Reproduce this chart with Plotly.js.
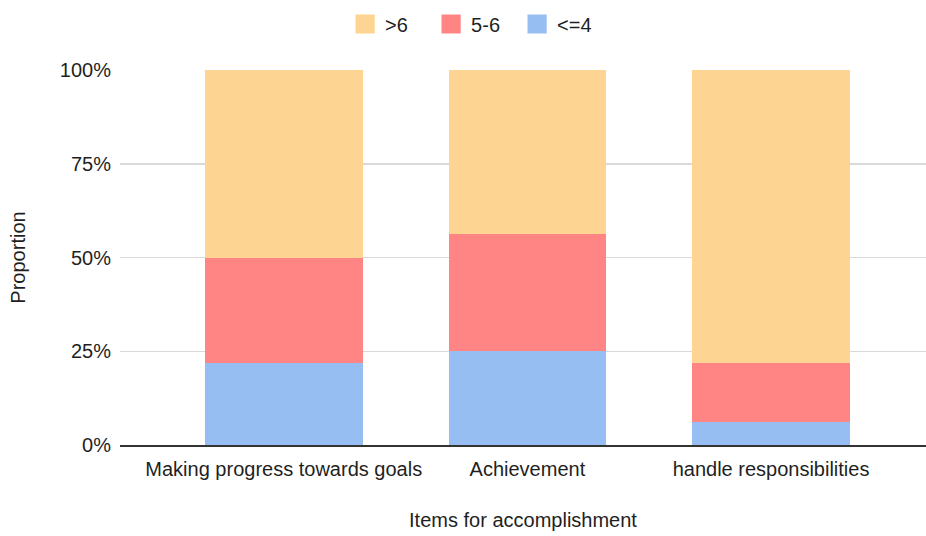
<!DOCTYPE html>
<html>
<head>
<meta charset="utf-8">
<script src="https://cdn.plot.ly/plotly-3.0.1.min.js"></script>
<style>
  html, body { margin: 0; padding: 0; background: #fff; }
  #chart { width: 926px; height: 536px; }
</style>
</head>
<body>
<div id="chart"></div>
<script>
// Items rated, and the share of responses in each score band (percent)
const items = ["Making progress towards goals", "Achievement", "handle responsibilities"];
const lowShare = [21.875, 25, 6.25];        // <=4
const midShare = [28.125, 31.25, 15.625];   // 5-6
const highShare = [50, 43.75, 78.125];      // >6
const yTicks = [0, 25, 50, 75, 100];
const yTickText = ["0%", "25%", "50%", "75%", "100%"];

const FONT = "Liberation Sans, Arial, Helvetica, sans-serif";
const TEXT = "#1f1f1f";

const traces = [
  { name: "<=4", y: lowShare, color: "#97bef2" },
  { name: "5-6", y: midShare, color: "#ff8585" },
  { name: ">6", y: highShare, color: "#fdd491" }
].map(t => ({
  type: "bar",
  x: items,
  y: t.y,
  name: t.name,
  marker: { color: t.color, line: { width: 0 } },
  hoverinfo: "none"
}));

const layout = {
  width: 926,
  height: 536,
  margin: { l: 120, r: 0, t: 70, b: 91 },
  paper_bgcolor: "#ffffff",
  plot_bgcolor: "#ffffff",
  barmode: "stack",
  bargap: 0.353,
  font: { family: FONT, size: 20, color: TEXT },
  showlegend: true,
  legend: {
    orientation: "h",
    traceorder: "reversed",
    xref: "container",
    yref: "container",
    x: 0.512,
    xanchor: "center",
    y: 1 - 24 / 536,
    yanchor: "middle",
    font: { family: FONT, size: 20, color: TEXT },
    itemwidth: 30,
    entrywidth: 41,
    entrywidthmode: "pixels",
    bgcolor: "rgba(0,0,0,0)"
  },
  xaxis: {
    type: "category",
    range: [-0.672, 2.636],
    showgrid: false,
    zeroline: false,
    showline: true,
    linecolor: "#333333",
    linewidth: 2,
    ticks: "",
    ticklabelstandoff: 5,
    tickfont: { family: FONT, size: 20, color: TEXT },
    title: { text: "Items for accomplishment", standoff: 34, font: { family: FONT, size: 20, color: TEXT } }
  },
  yaxis: {
    range: [0, 100],
    tickvals: yTicks,
    ticktext: yTickText,
    showgrid: true,
    gridcolor: "#d9d9d9",
    gridwidth: 1.5,
    zeroline: false,
    showline: false,
    ticks: "",
    ticklabelstandoff: 8,
    tickfont: { family: FONT, size: 20, color: TEXT },
    title: { text: "Proportion", standoff: 28, font: { family: FONT, size: 20, color: TEXT } }
  }
};

Plotly.newPlot("chart", traces, layout, { displayModeBar: false, staticPlot: true }).then(gd => {
  // enlarge the legend swatches to square chips
  gd.querySelectorAll(".legend .legendpoints path").forEach(p => {
    const t = p.getAttribute("transform") || "";
    p.setAttribute("transform", t + " scale(1.6)");
  });
});
</script>
</body>
</html>
